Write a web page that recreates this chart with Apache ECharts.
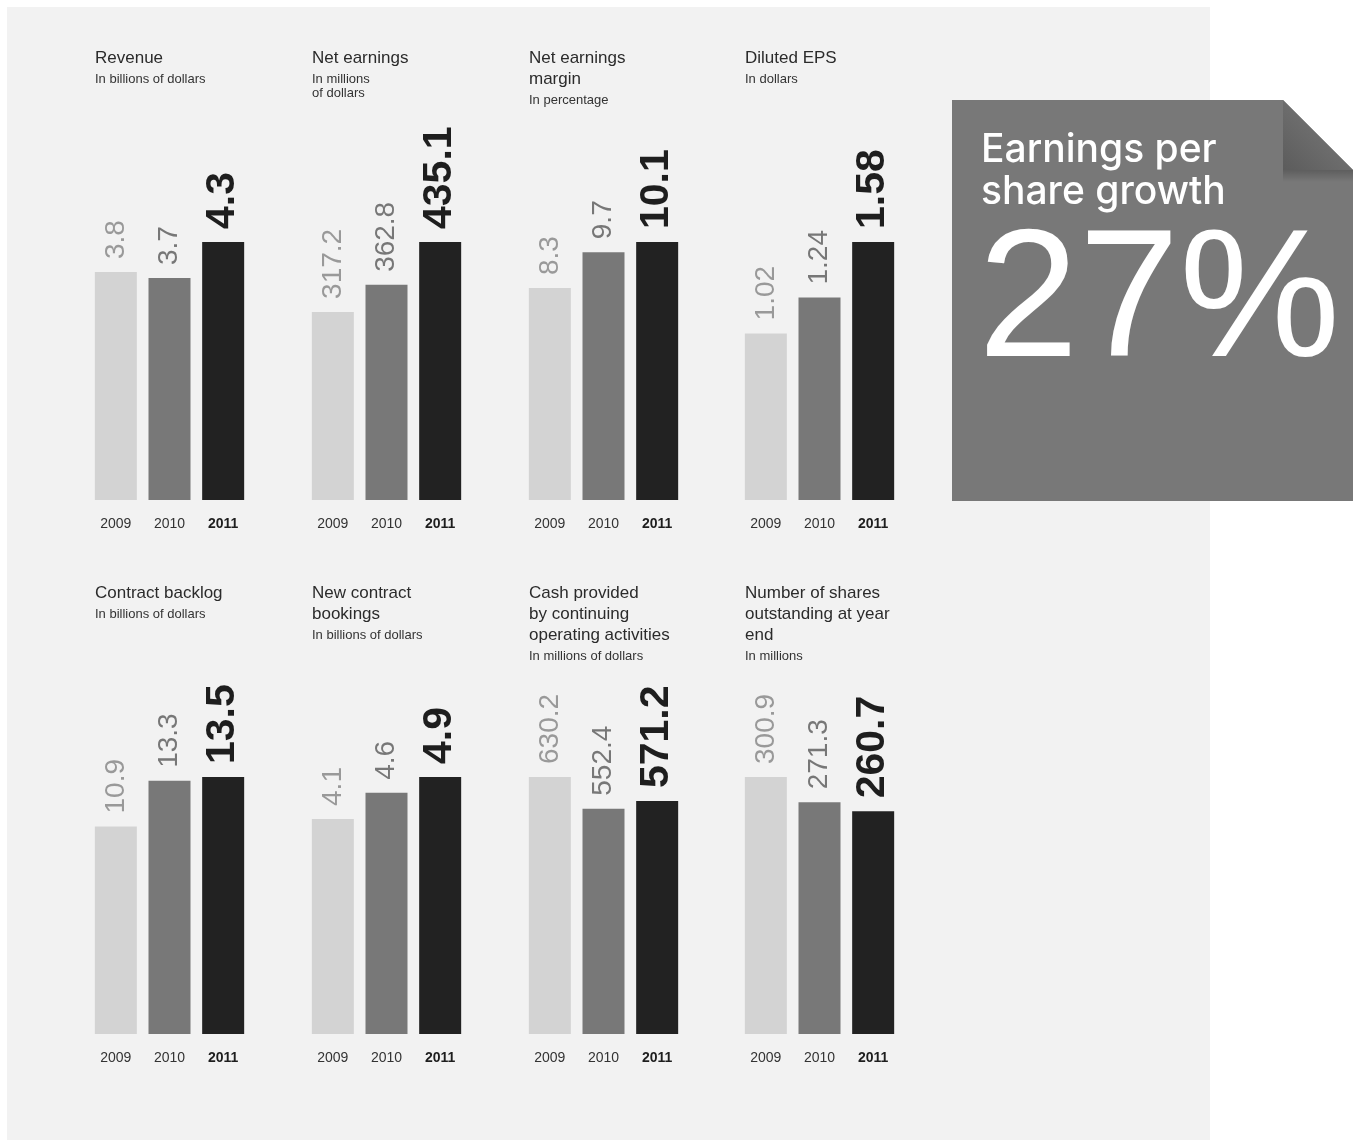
<!DOCTYPE html>
<html>
<head>
<meta charset="utf-8">
<script src="https://cdn.jsdelivr.net/npm/echarts@6/dist/echarts.min.js"></script>
<style>
  html, body { margin: 0; padding: 0; background: #fff; }
  #main { width: 1354px; height: 1141px; }
</style>
</head>
<body>
<div id="main"></div>
<script>
  // data
  var years = ['2009', '2010', '2011'];
  var revenue = [3.8, 3.7, 4.3];
  var netEarnings = [317.2, 362.8, 435.1];
  var netMargin = [8.3, 9.7, 10.1];
  var dilutedEps = [1.02, 1.24, 1.58];
  var backlog = [10.9, 13.3, 13.5];
  var bookings = [4.1, 4.6, 4.9];
  var cashOps = [630.2, 552.4, 571.2];
  var sharesOut = [300.9, 271.3, 260.7];

  var titles = ['Revenue', 'Net earnings', 'Net earnings\nmargin', 'Diluted EPS',
    'Contract backlog', 'New contract\nbookings', 'Cash provided\nby continuing\noperating activities',
    'Number of shares\noutstanding at year\nend'];
  var subtitles = ['In billions of dollars', 'In millions\nof dollars', 'In percentage', 'In dollars',
    'In billions of dollars', 'In billions of dollars', 'In millions of dollars', 'In millions'];
  var allValues = [revenue, netEarnings, netMargin, dilutedEps, backlog, bookings, cashOps, sharesOut];

  var FONT = '"Liberation Sans", Arial, Helvetica, sans-serif';
  var barColors = ['#d3d3d3', '#787878', '#222222'];
  var labelColors = ['#999999', '#777777', '#1e1e1e'];

  var colLeft = [89, 306, 523, 739];
  var rowTop = [242, 777];
  var rowH = [258, 257];
  var titleTop = [48, 583];

  var grids = [], xAxes = [], yAxes = [], series = [], titleList = [];

  for (var i = 0; i < allValues.length; i++) {
    var c = i % 4, r = Math.floor(i / 4);
    grids.push({ left: colLeft[c], top: rowTop[r], width: 161, height: rowH[r] });
    titleList.push({
      text: titles[i],
      subtext: subtitles[i],
      left: colLeft[c] + 6,
      top: titleTop[r],
      padding: 0,
      itemGap: 3,
      textStyle: { fontFamily: FONT, fontSize: 17, fontWeight: 'normal', color: '#2b2b2b', lineHeight: 21 },
      subtextStyle: { fontFamily: FONT, fontSize: 13, color: '#333', lineHeight: 14 }
    });
    xAxes.push({
      gridIndex: i,
      type: 'category',
      data: years.map(function (y, k) {
        return k === 2 ? { value: y, textStyle: { fontWeight: 'bold', color: '#1e1e1e' } } : y;
      }),
      axisLine: { show: false },
      axisTick: { show: false },
      axisLabel: { fontFamily: FONT, fontSize: 14, color: '#333', margin: 17 }
    });
    yAxes.push({ gridIndex: i, type: 'value', min: 0, max: 'dataMax', show: false, splitLine: { show: false } });
    series.push({
      type: 'bar',
      xAxisIndex: i,
      yAxisIndex: i,
      barWidth: 42,
      silent: true,
      data: allValues[i].map(function (v, k) {
        return {
          value: v,
          itemStyle: { color: barColors[k] },
          label: {
            show: true,
            position: 'top',
            distance: 13,
            rotate: 90,
            align: 'left',
            verticalAlign: 'middle',
            fontFamily: FONT,
            fontSize: k === 2 ? 41 : 28,
            fontWeight: k === 2 ? 'bold' : 'normal',
            color: labelColors[k]
          }
        };
      })
    });
  }

  var BOXFONT = 'Inter, "Liberation Sans", Arial, sans-serif';

  var chart = echarts.init(document.getElementById('main'));
  chart.setOption({
    animation: false,
    backgroundColor: '#ffffff',
    title: titleList,
    grid: grids,
    xAxis: xAxes,
    yAxis: yAxes,
    series: series,
    graphic: [
      // panel
      { type: 'rect', z: -10, shape: { x: 7, y: 7, width: 1203, height: 1133 }, style: { fill: '#f2f2f2' } },
      // callout box with folded corner
      { type: 'polygon', z: 1, shape: { points: [[952, 100], [1283, 100], [1353, 170], [1353, 501], [952, 501]] },
        style: { fill: '#787878' } },
      { type: 'rect', z: 1, shape: { x: 1283, y: 170, width: 70, height: 12 },
        style: { fill: new echarts.graphic.LinearGradient(0, 0, 0, 1, [
          { offset: 0, color: 'rgba(0,0,0,0.22)' }, { offset: 1, color: 'rgba(0,0,0,0)' }]) } },
      { type: 'polygon', z: 2, shape: { points: [[1283, 100], [1353, 170], [1283, 170]] },
        style: { fill: new echarts.graphic.LinearGradient(1, 0, 0, 1, [
          { offset: 0, color: '#7e7e7e' }, { offset: 1, color: '#5c5c5c' }]) } },
      { type: 'text', z: 3, x: 981, y: 131,
        style: { text: 'Earnings per', fill: '#fff', fontFamily: BOXFONT, fontWeight: 500, fontSize: 39 } },
      { type: 'text', z: 3, x: 981, y: 173,
        style: { text: 'share growth', fill: '#fff', fontFamily: BOXFONT, fontWeight: 500, fontSize: 39 } },
      { type: 'text', z: 3, x: 978, y: 216,
        style: { text: '27%', fill: '#fff', fontFamily: '"Liberation Sans", Arial, sans-serif', fontSize: 181 } }
    ]
  });
</script>
</body>
</html>
